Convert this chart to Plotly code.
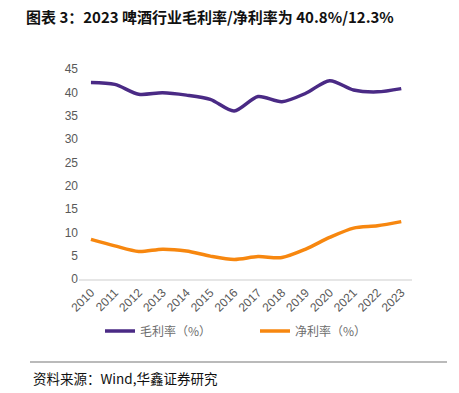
import plotly.graph_objects as go

years = [str(y) for y in range(2010, 2024)]
gross_margin = [42.1, 41.7, 39.6, 39.9, 39.4, 38.5, 36.0, 39.1, 38.0, 39.8, 42.5, 40.5, 40.1, 40.8]
net_margin = [8.5, 7.1, 5.9, 6.4, 6.0, 4.9, 4.2, 4.8, 4.6, 6.4, 8.9, 10.9, 11.4, 12.3]
y_ticks = [0, 5, 10, 15, 20, 25, 30, 35, 40, 45]

W, H = 459, 393
L, R, T, B = 79, 47, 69, 114
pw, ph = W - L - R, H - T - B

def px(x):
    return (x - L) / pw

def py(y):
    return (H - B - y) / ph

fig = go.Figure()
fig.add_trace(go.Scatter(x=years, y=gross_margin, mode="lines", name="毛利率（%）", legend="legend",
                         line=dict(color="#4A2A85", width=3.5, shape="spline", smoothing=0.8)))
fig.add_trace(go.Scatter(x=years, y=net_margin, mode="lines", name="净利率（%）", legend="legend2",
                         line=dict(color="#F7870F", width=3.5, shape="spline", smoothing=0.8)))

leg_common = dict(orientation="h", xanchor="left", yanchor="middle",
                  font=dict(size=12, color="#6E6E6E"), bgcolor="rgba(0,0,0,0)")

fig.update_layout(
    width=W, height=H,
    margin=dict(l=L, r=R, t=T, b=B, autoexpand=False),
    paper_bgcolor="white", plot_bgcolor="white",
    font=dict(family="Noto Sans CJK SC, Liberation Sans, sans-serif", color="#595959", size=12),
    xaxis=dict(type="category", range=[-0.5, 13.45], tickangle=-45, showgrid=False,
               showline=True, linecolor="#E6E6E6", linewidth=2, ticks="", automargin=False,
               tickfont=dict(family="Liberation Sans, Arial", size=12, color="#595959")),
    yaxis=dict(range=[0, 45], tickvals=y_ticks, showgrid=False, zeroline=False,
               showline=False, ticks="", automargin=False,
               tickfont=dict(family="Liberation Sans, Arial", size=12, color="#595959")),
    legend=dict(x=px(100), y=py(331), **leg_common),
    legend2=dict(x=px(255), y=py(331), **leg_common),
    showlegend=True,
)

fig.add_annotation(text="<b>图表 3：2023 啤酒行业毛利率/净利率为 40.8%/12.3%</b>",
                   xref="paper", yref="paper", x=px(24), y=py(16), xanchor="left", yanchor="middle",
                   showarrow=False, font=dict(size=15, color="#111111", family="Noto Sans CJK SC"))
fig.add_annotation(text="资料来源：Wind,华鑫证券研究",
                   xref="paper", yref="paper", x=px(31), y=py(378), xanchor="left", yanchor="middle",
                   showarrow=False, font=dict(size=13.5, color="#111111", family="Noto Sans CJK SC"))
fig.add_shape(type="line", xref="paper", yref="paper", x0=px(30), x1=px(447), y0=py(362), y1=py(362),
              line=dict(color="#777777", width=1.2))

fig.write_html("out.html", config={"displayModeBar": False},
               post_script="document.body.style.margin='0';document.body.style.padding='0';")
